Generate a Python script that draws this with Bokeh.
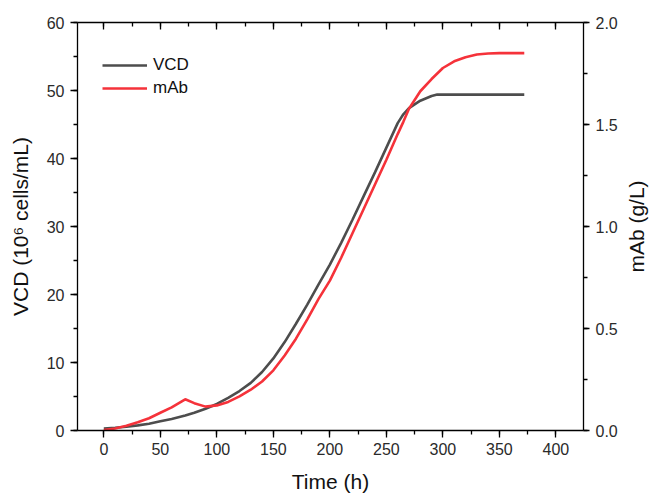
from bokeh.plotting import figure
from bokeh.layouts import row
from bokeh.models import (LinearAxis, Range1d, SingleIntervalTicker, NumeralTickFormatter,
                          Legend, LegendItem, CustomJSTickFormatter, FixedTicker)
from bokeh.embed import file_html
from bokeh.resources import INLINE

# ---- data ----
time_h = [0, 10, 20, 30, 40, 50, 60, 72, 80, 90, 100, 110, 120, 130, 140, 150, 160, 170,
          180, 190, 200, 210, 220, 230, 240, 250, 260, 265, 270, 280, 290, 295, 300, 310,
          320, 330, 340, 350, 360, 372]
vcd = [0.3, 0.4, 0.55, 0.75, 1.0, 1.35, 1.7, 2.2, 2.6, 3.2, 3.9, 4.8, 5.8, 7.0, 8.6, 10.6,
       13.0, 15.7, 18.5, 21.5, 24.4, 27.6, 31.0, 34.5, 38.0, 41.6, 45.2, 46.5, 47.4, 48.5,
       49.2, 49.4, 49.4, 49.4, 49.4, 49.4, 49.4, 49.4, 49.4, 49.4]
mab = [0.002, 0.010, 0.023, 0.040, 0.060, 0.087, 0.113, 0.153, 0.134, 0.117, 0.123, 0.140,
       0.167, 0.200, 0.240, 0.295, 0.368, 0.450, 0.545, 0.645, 0.735, 0.847, 0.967, 1.087,
       1.207, 1.327, 1.453, 1.513, 1.577, 1.663, 1.723, 1.750, 1.777, 1.810, 1.830, 1.843,
       1.848, 1.850, 1.850, 1.850]

FONT = "Liberation Sans"
TICK_SIZE = "16px"
TITLE_SIZE = "21px"

W, H = 621, 495          # main figure
W2 = 651 - W             # narrow strip carrying the right-hand title
TOP, BOTTOM = 22, 431    # frame top/bottom on the page
p = figure(width=W, height=H, output_backend="svg", toolbar_location=None,
           x_range=Range1d(-23.3, 424.4), y_range=Range1d(0, 60),
           min_border_left=77, min_border_right=W - 583, min_border_top=TOP,
           min_border_bottom=H - BOTTOM)
p.extra_y_ranges = {"mab": Range1d(0, 2.0)}
p.xgrid.visible = False
p.ygrid.visible = False
p.outline_line_color = None
p.background_fill_color = "white"
p.border_fill_color = "white"

def style(ax):
    ax.axis_line_color = "black"
    ax.axis_line_width = 1.3
    ax.major_tick_line_color = "black"
    ax.minor_tick_line_color = "black"
    ax.major_tick_line_width = 1.3
    ax.minor_tick_line_width = 1.3
    ax.major_label_text_font = FONT
    ax.major_label_text_font_size = TICK_SIZE
    ax.major_label_text_color = "#2a2a2a"
    ax.axis_label_text_font = FONT
    ax.axis_label_text_font_size = TITLE_SIZE
    ax.axis_label_text_font_style = "normal"
    ax.axis_label_text_color = "#111111"

# bottom axis
xa = p.xaxis[0]
xa.ticker = SingleIntervalTicker(interval=50, num_minor_ticks=2)
xa.axis_label = "Time (h)"
style(xa)
xa.major_tick_in = 0
xa.major_tick_out = 7
xa.minor_tick_in = 0
xa.minor_tick_out = 4
xa.major_label_standoff = 5
xa.axis_label_standoff = 12

# left axis
ya = p.yaxis[0]
ya.ticker = SingleIntervalTicker(interval=10, num_minor_ticks=2)
ya.axis_label = "VCD (10\u2076 cells/mL)"
style(ya)
ya.major_tick_in = 0
ya.major_tick_out = 7
ya.minor_tick_in = 0
ya.minor_tick_out = 4
ya.major_label_standoff = 6
ya.axis_label_standoff = 12

# right axis (ticks + labels only)
ra = LinearAxis(y_range_name="mab",
                ticker=SingleIntervalTicker(interval=0.5, num_minor_ticks=2),
                formatter=NumeralTickFormatter(format="0.0"))
style(ra)
ra.major_tick_in = 0
ra.major_tick_out = 6
ra.minor_tick_in = 0
ra.minor_tick_out = 4
ra.major_label_standoff = 6
p.add_layout(ra, "right")

# top axis (ticks inward, no labels)
ta = LinearAxis(ticker=SingleIntervalTicker(interval=50, num_minor_ticks=2),
                formatter=CustomJSTickFormatter(code="return ''"))
style(ta)
ta.major_tick_in = 7
ta.major_tick_out = 0
ta.minor_tick_in = 4
ta.minor_tick_out = 0
ta.major_label_standoff = 0
ta.major_label_text_font_size = "1px"
p.add_layout(ta, "above")

r1 = p.line(time_h, vcd, line_color="#4d4d4d", line_width=2.6)
r2 = p.line(time_h, mab, line_color="#f5323a", line_width=2.6, y_range_name="mab")

legend = Legend(items=[LegendItem(label="VCD", renderers=[r1]),
                       LegendItem(label="mAb", renderers=[r2])],
                location=(25, 332))
legend.border_line_color = None
legend.background_fill_alpha = 1
legend.padding = 3
legend.spacing = 3
legend.margin = 0
legend.glyph_width = 45
legend.glyph_height = 20
legend.label_height = 20
legend.label_standoff = 6
legend.label_text_font = FONT
legend.label_text_font_size = "17px"
legend.label_text_color = "#111111"
p.add_layout(legend, "center")

# narrow strip: its left axis carries the right-hand title, read bottom-to-top
p2 = figure(width=W2, height=H, output_backend="svg", toolbar_location=None,
            x_range=Range1d(0, 1), y_range=Range1d(0, 2.0),
            min_border_left=W2 - 6, min_border_right=0, min_border_top=TOP,
            min_border_bottom=H - BOTTOM, x_axis_location=None)
p2.xgrid.visible = False
p2.ygrid.visible = False
p2.outline_line_color = None
p2.background_fill_color = "white"
p2.border_fill_color = "white"
la = p2.yaxis[0]
la.ticker = FixedTicker(ticks=[])
la.axis_line_color = None
la.major_tick_line_color = None
la.minor_tick_line_color = None
la.major_label_text_font_size = "1px"
la.major_label_standoff = 0
la.axis_label = "mAb (g/L)"
la.axis_label_text_font = FONT
la.axis_label_text_font_size = TITLE_SIZE
la.axis_label_text_font_style = "normal"
la.axis_label_text_color = "#111111"
la.axis_label_standoff = 0

layout = row(p, p2, spacing=0)
open("out.html", "w").write(file_html(layout, INLINE))
